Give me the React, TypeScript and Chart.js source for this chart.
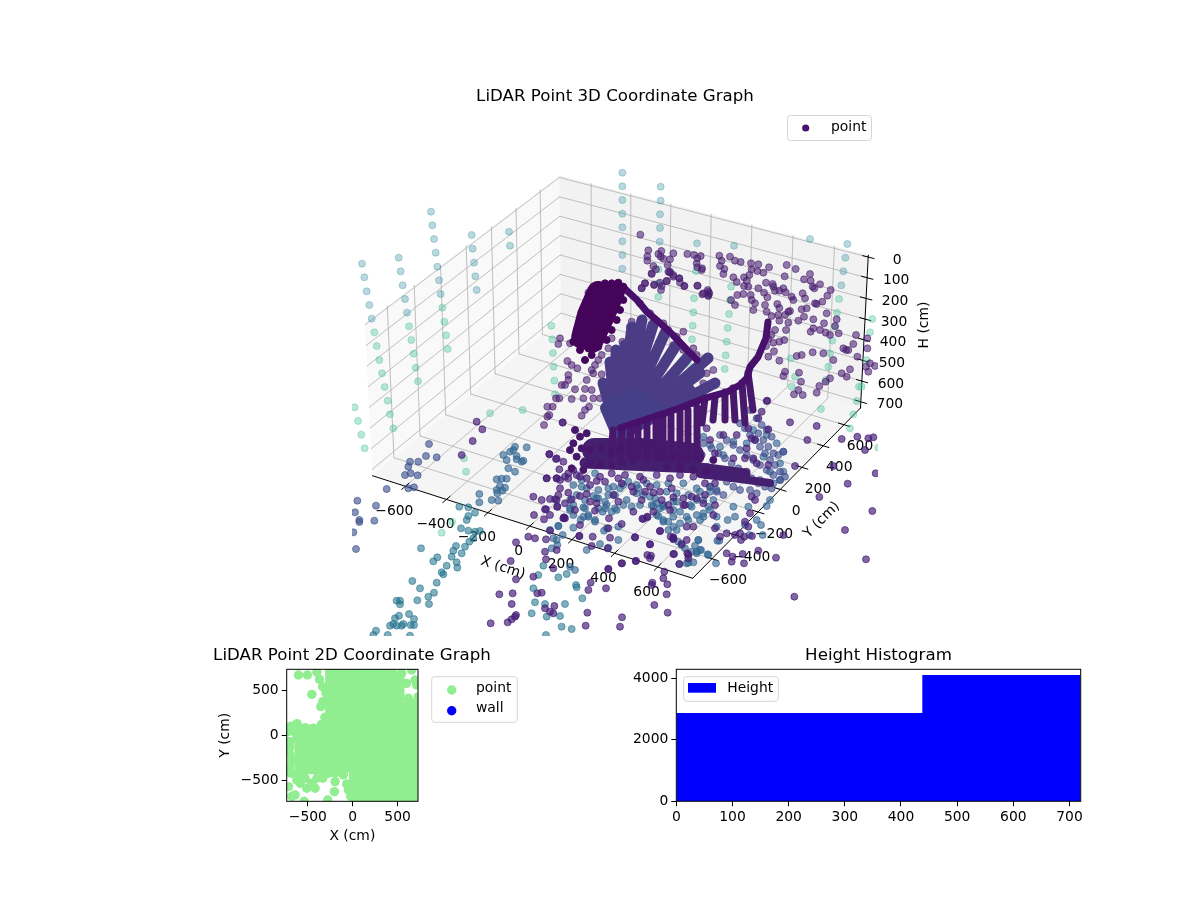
import { useRef, useEffect } from 'react';
import { Chart, registerables } from 'chart.js';

Chart.register(...registerables);
Chart.defaults.font.family = '"DejaVu Sans"';
Chart.defaults.color = '#000';

// ---- 3D view: axis ticks
const xTicks = [-600, -400, -200, 0, 200, 400, 600];
const yTicks = [-600, -400, -200, 0, 200, 400, 600];
const hTicks = [0, 100, 200, 300, 400, 500, 600, 700];

const CROP_A = [340, 160];
const CROP_B = [620, 160];
const CROP_C = [340, 400];
const CROP_D = [620, 400];
const CROP_E = [540, 270];
const CROP_F = [540, 420];
const CROP_G = [700, 340];

const tealHighA = [[66,311],[73,352],[80,394],[88,435],[95,476],[176,293],[182,334],[188,376],[195,417],[201,458],[273,155],[277,196],[282,237],[287,278],[292,320],[297,361],[302,402],[395,225],[398,266],[402,308],[406,349],[410,390],[507,215],[510,257]];
const tealHighB = [[7,38],[7,79],[7,120],[7,161],[7,202],[7,244],[7,285],[7,326],[122,80],[122,122],[120,163],[120,204],[119,245],[231,250],[342,257],[570,237],[682,252],[676,293],[670,334],[664,376]];
const tealLowA = [[103,517],[110,558],[118,600],[126,640],[134,681],[143,722],[207,499],[214,540],[221,581],[227,623],[234,664],[307,443],[313,485],[318,526],[323,567],[634,497],[637,538],[639,579],[641,620],[643,662],[645,703]];
const tealLowB = [[116,328],[115,370],[115,411],[228,333],[222,415],[220,457],[218,497],[216,538],[213,580],[210,620],[333,380],[330,421],[327,462],[323,504],[320,545],[317,586],[314,627],[657,417],[651,458],[645,500],[637,542],[630,580],[625,620],[618,660],[757,477],[750,517],[740,600],[725,680],[717,680],[512,595],[525,650],[515,680]];
const tealLowC = [[44,22],[54,63],[64,104],[74,145],[150,43],[160,85],[372,175],[378,215],[450,40],[548,30],[336,365],[305,398]];
const tealLowD = [[603,27],[700,43],[690,85],[775,143],[710,3]];

const purpleFarB = [[61,224],[85,271],[82,289],[82,302],[124,273],[115,282],[122,290],[130,296],[160,280],[150,298],[143,315],[145,335],[100,318],[108,328],[95,342],[150,338],[160,350],[178,355],[180,368],[193,378],[140,363],[103,374],[75,370],[65,384],[125,378],[123,390],[202,282],[222,285],[242,288],[232,295],[230,310],[232,322],[246,325],[298,287],[330,290],[345,302],[362,306],[305,302],[300,318],[313,327],[310,342],[393,310],[415,313],[395,328],[412,333],[388,345],[372,352],[380,362],[340,352],[350,366],[430,338],[447,322],[500,315],[527,327],[494,349],[552,358],[570,342],[572,362],[578,380],[583,385],[600,373],[632,390],[622,407],[607,425],[585,430],[548,400],[555,415],[515,410],[520,420],[233,377],[263,390],[268,400],[247,403],[265,408],[333,420],[345,435],[352,405],[372,378],[385,380],[370,402],[392,405],[395,420],[405,430],[400,450],[415,385],[432,398],[442,412],[438,368],[458,372],[460,380],[465,392],[478,392],[490,385],[497,397],[435,435],[440,455],[455,468],[472,432],[478,444],[475,465],[495,465],[505,455],[510,453],[505,488],[478,482],[498,510],[535,482],[552,470],[545,448],[560,445],[580,478],[590,432],[620,460],[650,478],[645,498],[612,490],[600,510],[580,505],[572,515],[617,518],[630,525],[656,520],[708,525],[700,552],[670,565],[685,570],[678,570],[742,535],[712,590],[742,565],[738,620],[750,610],[765,618],[745,635],[690,628],[665,640],[680,650],[640,600],[610,580],[578,577],[545,585],[530,588],[495,635],[490,648],[537,638],[543,665],[630,655],[617,665],[598,678],[590,698],[548,705],[535,690],[522,703],[442,722],[478,602],[462,574],[445,590],[465,510],[454,525],[445,537],[478,545],[493,540],[460,548],[438,558]];
const purpleFarE = [[145,68],[275,155],[270,170],[247,215],[215,205],[205,235],[185,255],[175,270],[185,313],[155,300],[160,310],[165,285],[82,273],[95,285],[112,295],[60,205],[55,222],[90,220],[85,315],[85,330],[65,345],[75,345],[105,358],[95,387],[135,357],[155,360],[130,385],[160,385],[180,385],[147,410],[125,437],[135,420],[68,458],[12,465],[22,440],[28,435],[22,410],[38,410],[48,385],[58,385],[315,40],[342,45],[360,38],[380,33],[305,55],[335,10],[390,5],[400,15],[418,25],[433,48],[472,47],[490,70],[505,65],[505,75],[485,0],[140,330],[300,100],[330,130],[345,150],[370,160],[385,180],[410,200],[430,185],[400,225],[430,240],[460,235],[470,255],[500,310],[520,300],[490,340],[525,345]];

const blueEdgeC = [[267,132],[258,168],[290,172],[235,185],[210,185],[205,200],[195,225],[212,220],[233,226],[205,265],[222,262],[140,267],[108,317],[52,302],[45,337],[58,360],[58,366],[103,362],[40,397],[48,447]];
const tealBlueC = [[358,320],[385,322],[405,338],[385,348],[380,360],[363,385],[385,392],[405,395],[420,393],[400,415],[388,425],[375,440],[365,460],[348,438],[340,452],[335,470],[292,472],[280,484],[320,497],[350,487],[352,503],[305,517],[310,523],[243,445],[290,548],[217,543],[240,565],[282,578],[265,590],[267,612],[232,601],[170,602],[180,602],[180,613],[207,642],[177,647],[165,655],[160,672],[150,677],[170,677],[185,677],[190,672],[222,657],[212,675],[222,675],[108,692],[143,705],[210,707],[100,705],[610,497],[595,525],[580,565],[655,532],[680,522],[708,555],[710,562],[727,595],[585,607],[675,612],[615,612],[575,640],[620,650],[660,648],[665,680],[695,687],[618,705]];
const blueMidC = [[418,282],[418,307],[455,300],[475,302],[470,238],[485,236],[500,236],[480,258],[470,270],[495,263],[487,272],[472,280],[520,150],[510,155],[525,140],[490,165],[530,168],[505,205],[525,215],[500,180],[545,185],[530,178],[550,182],[560,142],[640,415],[650,420],[652,435],[635,445],[690,500],[705,510],[740,450],[780,432],[805,443],[835,420],[700,345],[730,350],[765,360],[800,385],[835,380],[655,378],[630,390],[690,330],[735,325],[745,345],[770,295],[795,325],[825,325]];
const purpleNearC = [[410,65],[427,88],[398,123],[365,165],[528,427],[512,483],[528,538],[478,583],[518,580],[515,612],[528,645],[503,667],[515,658],[525,650],[452,670],[580,290],[582,345],[565,410],[585,415],[618,418],[620,235],[650,235],[660,240],[628,162],[650,175],[668,67],[630,345],[672,352],[652,320],[650,300],[605,300],[618,328],[695,298],[615,455],[618,478],[650,450],[640,505],[580,530],[592,580],[605,578],[615,625],[630,635],[640,640],[643,618],[742,638],[737,677],[745,570],[798,565],[752,548],[758,410],[718,408],[675,355],[805,507],[840,680]];
const blueMidD = [[235,420],[225,437],[185,435],[215,455],[205,488],[230,455],[243,450],[263,463],[288,490],[298,422],[323,360],[345,350],[375,375],[410,360],[423,375],[440,318],[428,405],[388,405],[130,365],[110,345],[160,350],[200,350],[240,360],[290,380],[250,340],[215,320],[265,320],[130,320],[100,318],[170,305],[230,300],[340,320],[385,320],[450,300],[480,240],[490,215],[480,190],[490,155],[470,130],[440,105],[400,90],[450,215],[420,240],[460,250],[430,170],[380,130],[340,125],[300,140],[310,165],[270,135],[250,110]];
const purpleNearD = [[510,67],[590,78],[562,120],[665,117],[525,198],[640,198],[683,251],[598,291],[757,333],[675,390],[738,478],[523,590],[767,220],[735,150],[712,110],[745,115],[760,112],[490,405],[468,473],[372,490],[335,485],[320,460],[338,470],[368,462],[415,452],[396,408],[363,420],[373,410],[205,465],[178,492],[133,515],[130,535],[142,553],[97,548],[95,555],[140,583],[103,615],[143,638],[6,652],[160,462],[90,433],[45,412],[82,350],[70,357],[93,467],[47,483],[6,490],[150,330],[120,393],[160,415],[200,380],[300,410],[320,400],[345,405],[360,400],[385,380],[375,365],[390,340],[405,300],[395,290]];
const blueMidF = [[130,262],[145,290],[165,305],[122,300],[100,323],[55,318],[68,345],[192,332],[230,270],[215,275],[188,275],[175,265],[195,245],[175,235],[160,228],[205,225],[225,225],[240,205],[260,240],[275,260],[290,220],[310,225],[335,255],[355,288],[370,300],[385,305],[400,320],[420,310],[445,300],[470,285],[490,290],[510,270],[530,290],[385,330],[410,330],[415,365],[435,385],[475,360],[470,400],[505,405],[532,362],[480,390],[460,427],[440,430],[418,432],[370,255],[350,250],[330,230],[400,245],[450,255],[490,240],[520,240],[100,255],[90,240],[110,225],[140,205],[125,180],[100,195],[175,210],[220,200],[250,195],[290,195],[320,190],[350,195],[385,190],[430,190],[470,205],[510,200],[530,210],[125,200],[165,160],[205,205],[265,185],[295,205],[345,235],[380,215],[410,220],[445,225],[480,215],[510,215],[420,275],[400,270],[360,265],[300,255],[250,255],[200,255],[135,240],[90,265]];
const purpleNearF = [[28,103],[48,117],[58,148],[50,175],[20,175],[70,125],[75,170],[60,205],[85,218],[120,228],[140,222],[55,225],[30,237],[45,238],[15,268],[52,260],[12,298],[72,293],[70,295],[120,315],[30,332],[118,348],[155,378],[203,385],[210,353],[205,325],[245,312],[207,295],[165,272],[150,245],[220,225],[322,292],[307,296],[285,352],[330,373],[322,405],[330,415],[288,423],[245,430],[205,447],[360,333],[392,350],[400,352],[400,358],[440,360],[425,372],[442,400],[445,415],[402,402],[305,240],[315,215],[340,218],[360,215],[400,232],[430,255],[455,230],[490,250],[275,200],[245,190],[170,183],[120,170],[85,160],[140,175],[180,170],[215,160],[255,165],[300,170],[350,165],[390,175],[420,165],[460,170],[500,165],[525,325],[460,320],[520,285],[100,150],[85,175],[110,165],[150,195],[195,185],[235,175],[280,215],[310,180],[330,200],[365,240],[395,205],[430,235],[470,235],[495,225],[525,255],[435,255],[385,255],[340,275],[280,275],[235,245],[170,250],[105,270],[75,250]];
const blueRowsG = [[150,210],[170,235],[185,255],[200,270],[215,290],[175,280],[190,300],[205,320],[220,340],[235,345],[250,335],[120,250],[135,265],[150,285],[165,300],[180,320],[195,340],[210,360],[225,375],[240,395],[255,410],[60,285],[80,300],[100,315],[120,330],[140,345],[160,360],[180,375],[200,390],[220,405],[240,420],[10,310],[35,325],[55,340],[75,355],[95,370],[115,385],[135,400],[155,415],[175,430],[195,440],[215,445],[20,380],[40,395],[60,410],[80,425],[100,440],[120,450],[30,440],[50,455],[70,465],[150,450],[170,460]];
const purpleRowsG = [[205,268],[200,183],[185,215],[175,235],[145,265],[155,295],[165,300],[110,285],[70,285],[30,300],[20,265],[140,325],[160,355],[135,355],[100,355],[45,340],[5,345],[170,370],[205,375],[140,395],[70,395],[45,400],[15,405],[45,430],[15,430]];
const darkDotsF = [[150,90],[185,85],[215,95],[150,130],[180,135],[215,135],[245,125],[240,85],[270,80],[305,75],[340,75],[280,120],[320,115],[360,110],[400,105],[440,110],[480,115],[520,120],[110,110],[95,145],[130,150],[380,140],[420,145],[460,150],[500,155],[100,70],[120,50],[105,30],[140,40],[90,90],[125,85]];
const darkDotsE = [[175,45],[195,40],[215,40],[235,38],[250,50],[165,60],[150,100],[135,125],[120,150],[110,180],[100,215],[120,240],[135,270],[155,255],[175,230],[200,210],[215,180],[230,150],[240,120],[250,90],[125,195],[145,235]];

// dense rows of the scan, as read: tips and bases of each fan of rays
const fanApex = [618, 436];
const fanTips = [[603,383],[610,362],[616,350],[625,345],[632,327],[642,320],[653,325],[665,333],[675,347],[687,358],[708,358],[700,373],[715,383],[690,390],[660,395]];
const fanInner = [[606,408],[614,400],[624,396],[634,394],[644,398],[654,404],[666,410]];
const stripTops = [[613,430],[622,428],[631,425],[638,425],[647,421],[656,420],[663,417],[671,415],[680,412],[688,410],[697,407],[705,398],[715,397],[725,392],[733,388],[742,383],[748,373]];
const stripEnds = [[611,456],[620,456],[630,456],[638,456],[647,458],[656,458],[663,458],[671,458],[680,460],[688,460],[697,460],[702,423],[713,420],[725,420],[735,420],[745,423],[753,410]];
const ridgeRight = [[768,322],[766,338],[758,357],[750,367],[747,378],[740,385],[727,392],[705,398],[680,408],[650,418],[620,428]];
const ridgeBack = [[623,287],[637,300],[647,312],[660,323],[673,335],[687,350],[697,360]];
const blobLeft = [[598,292],[588,315],[582,338]];
const blobRight = [[614,292],[603,318],[592,342]];
const bandUpper = [[594,450],[640,450],[692,455]];
const bandMiddle = [[585,463],[650,466],[700,468],[745,474]];
const bandLower = [[700,474],[740,479],[770,483]];

// ---- 2D panel, cm
const pointCore = [[135,-570],[435,-570],[635,-570],[135,-270],[435,-270],[635,-270],[135,30],[435,30],[635,30],[135,190],[435,190],[635,190],[135,520],[135,650],[300,650],[400,520],[-130,570],[-130,270],[-130,-30],[-130,-235],[-470,-60],[-470,-255]];
const pointEdge = [[-605,670],[-505,670],[-456,455],[-334,374],[-356,318],[-400,700],[-370,620],[-335,540],[-300,470],[-310,200],[-350,120],[-440,80],[-530,85],[-620,130],[-580,60],[-690,100],[-720,40],[-670,50],[-625,10],[-697,-70],[-720,-70],[-700,-130],[-620,-30],[-700,-210],[-680,-280],[-700,-350],[-690,-420],[-650,-430],[-623,-496],[-512,-588],[-419,-588],[-642,-662],[-716,-570],[-680,-680],[-542,-733],[-278,-718],[-204,-625],[-197,-514],[-334,-477],[-67,-540],[-104,-440],[-197,-422],[-270,-422],[-400,-477],[-530,-477],[-456,-533],[-586,-533],[-48,-607],[-22,-680],[-620,-440],[-580,-430],[545,688],[527,596],[657,725],[694,614],[601,577],[527,429],[620,411],[712,559],[675,355],[730,429],[545,577],[453,688]];
const wallPoints = [];
const xTicks2d = [-500, 0, 500];
const yTicks2d = [-500, 0, 500];

// ---- histogram
const binEdges = [0, 438, 720];
const binCounts = [2871, 4107];
const xTicksHist = [0, 100, 200, 300, 400, 500, 600, 700];
const yTicksHist = [0, 2000, 4000];

// ---- projection of the 3D box into the view plane
const LIM = 762;
const H_TOP = -10;
const H_BOTTOM = 730;
const groundCorners = [[372.3,475.7],[692.7,578.3],[860.5,408],[561,319]];
const topCorners = [[365,322.7],[695,415],[868.3,255],[559.3,175.5]];

const makeHomography = (q) => {
  const [[x0,y0],[x1,y1],[x2,y2],[x3,y3]] = q;
  const dx1 = x1-x2, dx2 = x3-x2, sx = x0-x1+x2-x3;
  const dy1 = y1-y2, dy2 = y3-y2, sy = y0-y1+y2-y3;
  const den = dx1*dy2-dx2*dy1;
  const g = (sx*dy2-dx2*sy)/den, h = (dx1*sy-sx*dy1)/den;
  const a = x1-x0+g*x1, b = x3-x0+h*x3, d = y1-y0+g*y1, e = y3-y0+h*y3;
  return (u, v) => {
    const w = g*u+h*v+1;
    return [(a*u+b*v+x0)/w, (d*u+e*v+y0)/w];
  };
};
const groundMap = makeHomography(groundCorners);
const topMap = makeHomography(topCorners);

const project = (x, y, h) => {
  const u = (x+LIM)/(2*LIM), v = (y+LIM)/(2*LIM);
  const g = groundMap(u, v), t = topMap(u, v);
  const s = (h-H_TOP)/(H_BOTTOM-H_TOP);
  return { x: t[0]+(g[0]-t[0])*s, y: t[1]+(g[1]-t[1])*s };
};

const GAP = { x: NaN, y: NaN };
const segs = (list) => list.flatMap(([a, b]) => [a, b, GAP]);

const gridSegments = segs([
  ...xTicks.map(x => [project(x,-LIM,H_BOTTOM), project(x,LIM,H_BOTTOM)]),
  ...yTicks.map(y => [project(-LIM,y,H_BOTTOM), project(LIM,y,H_BOTTOM)]),
  ...xTicks.map(x => [project(x,LIM,H_BOTTOM), project(x,LIM,H_TOP)]),
  ...yTicks.map(y => [project(-LIM,y,H_BOTTOM), project(-LIM,y,H_TOP)]),
  ...hTicks.map(h => [project(-LIM,-LIM,h), project(-LIM,LIM,h)]),
  ...hTicks.map(h => [project(-LIM,LIM,h), project(LIM,LIM,h)]),
]);
const axisSegments = segs([
  [project(-LIM,-LIM,H_BOTTOM), project(LIM,-LIM,H_BOTTOM)],
  [project(LIM,-LIM,H_BOTTOM), project(LIM,LIM,H_BOTTOM)],
  [project(LIM,LIM,H_TOP), project(LIM,LIM,H_BOTTOM)],
  ...xTicks.map(x => [project(x,-LIM-28,H_BOTTOM), project(x,-LIM+28,H_BOTTOM)]),
  ...yTicks.map(y => [project(LIM-28,y,H_BOTTOM), project(LIM+28,y,H_BOTTOM)]),
  ...hTicks.map(h => [project(LIM-28,LIM,h), project(LIM+28,LIM,h)]),
]);

const crop = (rows, origin) => rows.map(([a, b]) => ({ x: origin[0]+a/3, y: origin[1]+b/3 }));
const plain = (rows) => rows.map(([x, y]) => ({ x, y }));
const apex = { x: fanApex[0], y: fanApex[1] };
const fanSegments = segs(fanTips.map(t => [apex, { x: t[0], y: t[1] }]));
const fanInnerSegments = segs(fanInner.map(t => [apex, { x: t[0], y: t[1] }]));
const stripSegments = segs(stripTops.map((t, i) => [{ x: t[0], y: t[1] }, { x: stripEnds[i][0], y: stripEnds[i][1] }]));

const CLIP_3D = { left: -322, right: -322, top: 0, bottom: -4 };
const dots = (data, fill, rim?) => ({
  label: 'point', data, showLine: false, backgroundColor: fill, borderColor: rim ?? fill,
  pointRadius: 3.5, borderWidth: 1, clip: CLIP_3D,
});
const lines = (data, color, width) => ({
  label: 'line', data, showLine: true, borderColor: color, borderWidth: width, pointRadius: 0,
  borderCapStyle: 'round', borderJoinStyle: 'round', clip: CLIP_3D,
});
const backToFront = (list) => list.map((d, i) => ({ ...d, order: list.length - i }));

const TEAL_HIGH = 'rgba(60,150,165,0.36)';
const TEAL_LOW = 'rgba(60,190,150,0.36)';
const PURPLE_FAR = 'rgba(72,30,112,0.58)';
const PURPLE_NEAR = 'rgba(70,30,120,0.68)';
const BLUE_EDGE = 'rgba(60,80,140,0.62)';
const BLUE_MID = 'rgba(50,100,145,0.62)';
const BLUE_ROW = 'rgba(62,75,140,0.62)';
const TEAL_BLUE = 'rgba(35,115,142,0.58)';

const mplText = (ctx, text, x, y, opts: any = {}) => {
  ctx.save();
  ctx.font = `${opts.size ?? 13.89}px "DejaVu Sans"`;
  ctx.fillStyle = '#000';
  ctx.textAlign = opts.align ?? 'center';
  ctx.textBaseline = 'middle';
  ctx.translate(x, y);
  if (opts.rotate) ctx.rotate(opts.rotate * Math.PI / 180);
  ctx.fillText(text, 0, 0);
  ctx.restore();
};
const minus = (v) => String(v).replace('-', '\u2212');

const legendBox = (ctx, x, y, w, h) => {
  ctx.save();
  ctx.beginPath();
  ctx.roundRect(x, y, w, h, 3);
  ctx.fillStyle = 'rgba(255,255,255,0.8)';
  ctx.fill();
  ctx.strokeStyle = '#d5d5d5';
  ctx.lineWidth = 1;
  ctx.stroke();
  ctx.restore();
};
const legendDot = (ctx, x, y, r, color) => {
  ctx.save();
  ctx.beginPath();
  ctx.arc(x, y, r, 0, Math.PI * 2);
  ctx.fillStyle = color;
  ctx.fill();
  ctx.restore();
};

const box3dPlugin = {
  id: 'box3d',
  beforeDatasetsDraw(chart) {
    const { ctx } = chart;
    const sx = chart.scales.x, sy = chart.scales.y;
    const at = (p) => [sx.getPixelForValue(p.x), sy.getPixelForValue(p.y)];
    const pane = (pts, color) => {
      ctx.beginPath();
      pts.forEach((p, i) => { const [a, b] = at(p); i ? ctx.lineTo(a, b) : ctx.moveTo(a, b); });
      ctx.closePath();
      ctx.fillStyle = color;
      ctx.fill();
    };
    pane([project(-LIM,-LIM,H_BOTTOM), project(-LIM,LIM,H_BOTTOM), project(-LIM,LIM,H_TOP), project(-LIM,-LIM,H_TOP)], '#f9f9f9');
    pane([project(-LIM,LIM,H_BOTTOM), project(LIM,LIM,H_BOTTOM), project(LIM,LIM,H_TOP), project(-LIM,LIM,H_TOP)], '#f2f2f2');
    pane([project(-LIM,-LIM,H_BOTTOM), project(LIM,-LIM,H_BOTTOM), project(LIM,LIM,H_BOTTOM), project(-LIM,LIM,H_BOTTOM)], '#f5f5f5');

    xTicks.forEach(v => {
      const [a, b] = at(project(v,-LIM,H_BOTTOM));
      mplText(ctx, minus(v), a - 11, b + 25);
    });
    yTicks.forEach(v => {
      const [a, b] = at(project(LIM,v,H_BOTTOM));
      mplText(ctx, minus(v), a + 16, b + 22);
    });
    hTicks.forEach(v => {
      const [a, b] = at(project(LIM,LIM,v));
      mplText(ctx, String(v), a + 29, b + 3);
    });
    mplText(ctx, 'X (cm)', sx.getPixelForValue(503), sy.getPixelForValue(568), { rotate: 17.7 });
    mplText(ctx, 'Y (cm)', sx.getPixelForValue(821.7), sy.getPixelForValue(520), { rotate: -45 });
    mplText(ctx, 'H (cm)', sx.getPixelForValue(924), sy.getPixelForValue(325), { rotate: -90 });
  },
  afterDraw(chart) {
    const { ctx } = chart;
    legendBox(ctx, 757.5, 115.5, 84, 25);
    legendDot(ctx, 775.7, 128, 3.6, '#48146c');
    mplText(ctx, 'point', 801, 127.5, { align: 'left' });
  },
};

const framePlugin = {
  id: 'frame',
  afterDatasetsDraw(chart) {
    const { ctx, chartArea: a } = chart;
    ctx.save();
    ctx.strokeStyle = '#000';
    ctx.lineWidth = 1;
    ctx.strokeRect(a.left, a.top, a.right - a.left, a.bottom - a.top);
    ctx.restore();
  },
};

const legend2dPlugin = {
  id: 'legend2d',
  afterDraw(chart) {
    const { ctx } = chart;
    legendBox(ctx, 279.7, 36.7, 85.6, 45.6);
    legendDot(ctx, 299.7, 50, 4.7, '#90ee90');
    legendDot(ctx, 299.7, 70.7, 4.7, '#0000ff');
    mplText(ctx, 'point', 324, 48, { align: 'left' });
    mplText(ctx, 'wall', 324, 68.5, { align: 'left' });
  },
};

const legendHistPlugin = {
  id: 'legendHist',
  afterDraw(chart) {
    const { ctx } = chart;
    legendBox(ctx, 55.7, 36.7, 94.6, 24.6);
    ctx.fillStyle = '#0000ff';
    ctx.fillRect(60, 43, 28, 9.7);
    mplText(ctx, 'Height', 99.3, 48.3, { align: 'left' });
  },
};

const tickAxis = (min, max, values, fit, title?, titleGap = 0) => ({
  type: 'linear', min, max,
  title: title ? { display: true, text: title, font: { size: 13.89 }, color: '#000', padding: { top: titleGap, bottom: 0 } } : { display: false },
  border: { display: false },
  grid: { drawOnChartArea: false, drawTicks: true, tickLength: 5, color: '#000' },
  ticks: {
    autoSkip: false, maxRotation: 0, padding: 3,
    font: { size: 13.89 }, color: '#000', callback: minus,
  },
  afterBuildTicks: (s) => { s.ticks = values.map(value => ({ value })); },
  afterFit: fit,
});

// empty axis on the right that only reserves room beside the plot
const spacerAxis = (width) => ({
  type: 'linear', position: 'right', display: true,
  grid: { display: false }, border: { display: false }, ticks: { display: false },
  afterFit: (s) => { s.width = width; },
});

const Panel = ({ left, top, width, height, build }: any) => {
  const canvasRef = useRef(null);
  useEffect(() => {
    const chart = new Chart(canvasRef.current, build());
    return () => chart.destroy();
  }, []);
  return (
    <canvas ref={canvasRef} width={width} height={height}
      style={{ position: 'absolute', left, top, width, height, display: 'block' }} />
  );
};

const build3d = () => ({
  type: 'scatter',
  data: {
    datasets: backToFront([
      { ...lines(gridSegments, '#b0b0b0', 0.8), clip: 0 },
      { ...lines(axisSegments, '#000', 1), clip: 0 },
      dots([...crop(tealHighA, CROP_A), ...crop(tealHighB, CROP_B)], TEAL_HIGH),
      dots([...crop(tealLowA, CROP_A), ...crop(tealLowB, CROP_B), ...crop(tealLowC, CROP_C), ...crop(tealLowD, CROP_D)], TEAL_LOW),
      dots(crop(purpleFarB, CROP_B), PURPLE_FAR),
      dots(crop(purpleFarE, CROP_E), PURPLE_FAR),
      lines(fanSegments, '#4a3d86', 11),
      lines(fanInnerSegments, '#453f88', 12),
      dots([...crop(blueEdgeC, CROP_C)], BLUE_EDGE),
      dots(crop(tealBlueC, CROP_C), TEAL_BLUE),
      dots([...crop(blueMidC, CROP_C), ...crop(blueMidD, CROP_D), ...crop(blueMidF, CROP_F)], BLUE_MID),
      dots(crop(blueRowsG, CROP_G), BLUE_ROW),
      lines(plain(bandUpper), '#45206f', 24),
      lines(plain(bandMiddle), '#45206f', 11),
      lines(plain(bandLower), '#45206f', 8),
      dots([...crop(purpleNearC, CROP_C), ...crop(purpleNearD, CROP_D), ...crop(purpleNearF, CROP_F), ...crop(purpleRowsG, CROP_G)], PURPLE_NEAR),
      lines(stripSegments, '#48186c', 7),
      dots(crop(darkDotsF, CROP_F), '#47176b'),
      lines(plain(ridgeRight), '#47106a', 7),
      lines(plain(ridgeBack), '#47106a', 7),
      lines(plain(blobLeft), '#44045a', 22),
      lines(plain(blobRight), '#44045a', 22),
      dots(crop(darkDotsE, CROP_E), '#44045a'),
    ]),
  },
  options: {
    responsive: false,
    animation: false,
    layout: { padding: 0, autoPadding: false },
    plugins: {
      legend: { display: false },
      tooltip: { enabled: false },
      title: {
        display: true, text: 'LiDAR Point 3D Coordinate Graph', color: '#000',
        font: { size: 16.67, weight: 'normal' }, padding: { top: 87, bottom: 3 },
      },
    },
    scales: {
      x: { type: 'linear', display: false, min: 30, max: 1200 },
      y: { type: 'linear', display: false, min: 110, max: 640, reverse: true },
    },
  },
  plugins: [box3dPlugin],
});

const build2d = () => ({
  type: 'scatter',
  data: {
    datasets: backToFront([
      { label: 'point', data: plain(pointCore), pointStyle: 'rect', pointRadius: 22.5, borderWidth: 0, backgroundColor: '#90ee90', borderColor: '#90ee90', clip: 0 },
      { label: 'point', data: plain(pointEdge), pointRadius: 4.7, borderWidth: 0, backgroundColor: '#90ee90', borderColor: '#90ee90', clip: 0 },
      { label: 'wall', data: plain(wallPoints), pointRadius: 4.7, backgroundColor: '#0000ff', borderColor: '#0000ff', clip: 0 },
    ]),
  },
  options: {
    responsive: false,
    animation: false,
    layout: { padding: 0, autoPadding: false },
    plugins: {
      legend: { display: false },
      tooltip: { enabled: false },
      title: {
        display: true, text: 'LiDAR Point 2D Coordinate Graph', color: '#000',
        font: { size: 16.67, weight: 'normal' }, padding: { top: 6, bottom: 3.3 },
      },
    },
    scales: {
      x: tickAxis(-736, 728, xTicks2d, (s) => { s.height = 43.7; }, 'X (cm)'),
      y: tickAxis(-733, 733, yTicks2d, (s) => { s.width = 134.7; }, 'Y (cm)', 64.7),
      right: spacerAxis(134),
    },
  },
  plugins: [framePlugin, legend2dPlugin],
});

const buildHist = () => ({
  type: 'scatter',
  data: {
    datasets: [{
      label: 'Height',
      data: [
        { x: binEdges[0], y: binCounts[0] },
        { x: binEdges[1], y: binCounts[1] },
        { x: binEdges[2], y: binCounts[1] },
      ],
      showLine: true, stepped: true, fill: 'origin', pointRadius: 0, borderWidth: 0,
      backgroundColor: '#0000ff', borderColor: '#0000ff', clip: 0,
    }],
  },
  options: {
    responsive: false,
    animation: false,
    layout: { padding: 0, autoPadding: false },
    plugins: {
      legend: { display: false },
      tooltip: { enabled: false },
      title: {
        display: true, text: 'Height Histogram', color: '#000',
        font: { size: 16.67, weight: 'normal' }, padding: { top: 6, bottom: 3.3 },
      },
    },
    scales: {
      x: tickAxis(0, 720, xTicksHist, (s) => { s.height = 43.7; }),
      y: tickAxis(0, 4293, yTicksHist, (s) => { s.width = 48.3; }),
      right: spacerAxis(48.3),
    },
  },
  plugins: [framePlugin, legendHistPlugin],
});

export default function App() {
  return (
    <div style={{ position: 'absolute', left: 0, top: 0, width: 1200, height: 900, background: '#fff' }}>
      <Panel left={30} top={0} width={1170} height={640} build={build3d} />
      <Panel left={152} top={640} width={400} height={205} build={build2d} />
      <Panel left={628} top={640} width={501} height={205} build={buildHist} />
    </div>
  );
}
